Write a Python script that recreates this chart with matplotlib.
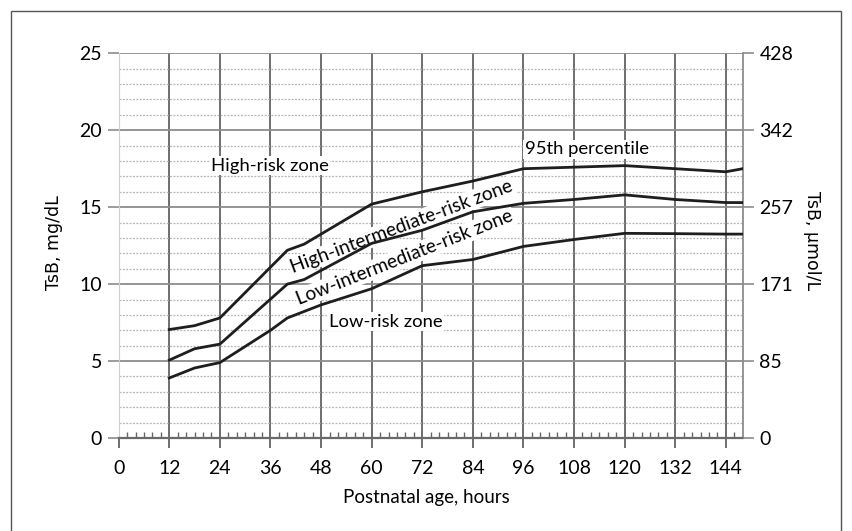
import matplotlib
matplotlib.use("Agg")
import matplotlib.pyplot as plt
from matplotlib.patches import Rectangle
from matplotlib.ticker import MultipleLocator, FixedLocator

# ---- data ----
hours_p95 = [12, 18, 24, 40, 44, 60, 72, 84, 96, 108, 120, 132, 144, 148]
tsb_p95 = [7.05, 7.3, 7.8, 12.2, 12.6, 15.2, 16.0, 16.7, 17.5, 17.6, 17.7, 17.5, 17.3, 17.5]

hours_p75 = [12, 18, 24, 40, 44, 60, 72, 84, 96, 108, 120, 132, 144, 148]
tsb_p75 = [5.06, 5.8, 6.1, 10.0, 10.3, 12.65, 13.5, 14.7, 15.25, 15.5, 15.8, 15.5, 15.3, 15.3]

hours_p40 = [12, 18, 24, 36, 40, 48, 60, 72, 84, 96, 108, 120, 132, 144, 148]
tsb_p40 = [3.9, 4.55, 4.9, 7.0, 7.8, 8.65, 9.7, 11.2, 11.6, 12.45, 12.9, 13.3, 13.28, 13.25, 13.25]

x_ticks = [0, 12, 24, 36, 48, 60, 72, 84, 96, 108, 120, 132, 144]
y_ticks = [0, 5, 10, 15, 20, 25]
umol_labels = ["0", "85", "171", "257", "342", "428"]

zone_labels = ["High-risk zone", "95th percentile", "High-intermediate-risk zone",
               "Low-intermediate-risk zone", "Low-risk zone"]

FONT = ["Lato", "DejaVu Sans"]
plt.rcParams["font.family"] = FONT

W, H = 852, 531
fig = plt.figure(figsize=(W / 100, H / 100), dpi=100)
fig.patch.set_facecolor("white")

# frame around figure (left, top, right; open at bottom)
fig.patches.append(Rectangle((11 / W, -0.05), (841 - 11) / W, 1.05 - 11 / H,
                             transform=fig.transFigure, fill=False,
                             edgecolor="#555555", lw=1.0))

x0, x1, y0, y1 = 118.7, 742.7, 53.3, 438.0
ax = fig.add_axes([x0 / W, 1 - y1 / H, (x1 - x0) / W, (y1 - y0) / H])
ax.set_xlim(0, 148)
ax.set_ylim(0, 25)

# grids
ax.set_yticks(y_ticks)
ax.yaxis.set_minor_locator(MultipleLocator(1))
ax.set_xticks(x_ticks)
ax.xaxis.set_minor_locator(FixedLocator([h for h in range(2, 148, 2) if h % 12 != 0]))
ax.grid(True, which="major", axis="y", color="#8c8c8c", lw=1.3)
ax.grid(True, which="minor", axis="y", color="#b5b5b5", lw=0.9, linestyle=(0, (1.5, 1.2)))
ax.grid(True, which="major", axis="x", color="#555555", lw=1.2)
ax.get_xgridlines()[0].set_visible(False)
ax.set_axisbelow(True)

ax.spines["top"].set_visible(False)
ax.spines["left"].set_color("#cfcfcf")
ax.spines["left"].set_linewidth(0.8)
ax.spines["right"].set_color("#8c8c8c")
ax.spines["right"].set_linewidth(1.3)
ax.spines["bottom"].set_color("#6a6a6a")
ax.spines["bottom"].set_linewidth(1.6)

ax.tick_params(axis="y", which="major", direction="out", length=8, width=1.2,
               color="#8c8c8c", labelsize=14, pad=4)
ax.tick_params(axis="y", which="minor", length=0)
ax.tick_params(axis="x", which="major", direction="out", length=7, width=1.2,
               color="#555555", labelsize=14, pad=9)
ax.tick_params(axis="x", which="minor", direction="in", length=4, width=1.0,
               color="#666666")

ax2 = ax.twinx()
ax2.set_ylim(0, 25)
ax2.set_yticks(y_ticks)
ax2.set_yticklabels(umol_labels)
ax2.tick_params(axis="y", direction="out", length=8, width=1.2, color="#8c8c8c",
                labelsize=14, pad=4)
for s in ax2.spines.values():
    s.set_visible(False)

# curves
for hrs, vals in [(hours_p95, tsb_p95), (hours_p75, tsb_p75), (hours_p40, tsb_p40)]:
    ax.plot(hrs, vals, color="#1e1e1e", lw=2.0, zorder=5, solid_joinstyle="round")

bbox = dict(facecolor="white", edgecolor="none", pad=1.0)
ax.text(35.9, 17.7, zone_labels[0], fontsize=13.3, ha="center", va="center", bbox=bbox, zorder=4)
ax.text(111, 18.75, zone_labels[1], fontsize=13.3, ha="center", va="center", bbox=bbox, zorder=4)
ax.text(67.1, 13.75, zone_labels[2], fontsize=13.8, ha="center", va="center", rotation=20.5,
        rotation_mode="anchor", bbox=bbox, zorder=4)
ax.text(67.9, 11.75, zone_labels[3], fontsize=13.8, ha="center", va="center", rotation=21.5,
        rotation_mode="anchor", bbox=bbox, zorder=4)
ax.text(63.3, 7.55, zone_labels[4], fontsize=13.3, ha="center", va="center", bbox=bbox, zorder=4)

# axis labels
fig.text(426 / W, 1 - 497 / H, "Postnatal age, hours", fontsize=13.5, ha="center", va="center")
fig.text(54 / W, 1 - 243 / H, "TsB, mg/dL", fontsize=12.5, rotation=90, ha="center",
         va="center", family="DejaVu Sans")
fig.text(812 / W, 1 - 241 / H, "TsB, µmol/L", fontsize=12.5, rotation=270, ha="center",
         va="center", family="DejaVu Sans")

fig.savefig("out.png", dpi=100)
